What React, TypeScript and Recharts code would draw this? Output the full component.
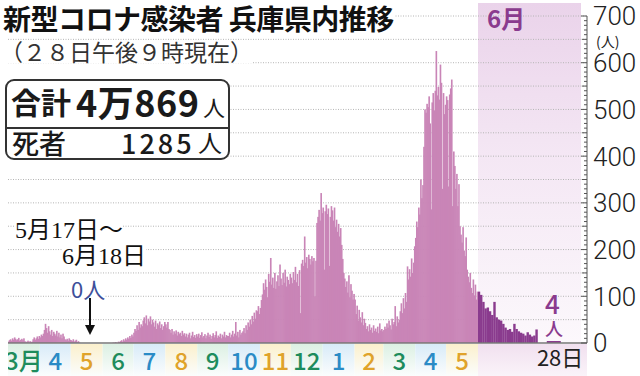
import React from 'react'
import { BarChart, Bar, XAxis, YAxis, CartesianGrid } from 'recharts'

// daily new cases (Mar 2020 - May 2021)
const mar20 = [3, 6, 8, 5, 10, 7, 12, 9, 6, 8, 11, 5, 7, 9, 6, 10, 4, 2, 3, 5, 1, 4, 2, 3, 8, 12, 7, 10, 14, 9, 15]
const apr20 = [12, 18, 15, 20, 28, 41, 32, 22, 36, 25, 18, 28, 15, 24, 20, 16, 26, 14, 22, 12, 18, 10, 20, 14, 8, 6, 9, 5, 10, 7]
const may20 = [6, 4, 8, 3, 5, 7, 2, 4, 1, 0, 0, 0, 0, 0, 0, 0, 0, 0, 0, 0, 0, 0, 0, 0, 0, 0, 0, 0, 0, 0, 0]
const jun20 = [0, 0, 0, 0, 0, 0, 0, 0, 0, 0, 1, 0, 2, 1, 0, 3, 2, 4, 6, 3, 8, 5, 10, 7, 12, 9, 15, 11, 18, 14]
const jul20 = [22, 30, 26, 38, 28, 45, 33, 40, 36, 48, 55, 42, 59, 38, 52, 46, 57, 40, 50, 44, 35, 48, 30, 42, 38, 46, 32, 40, 28, 36, 45]
const aug20 = [40, 33, 45, 30, 28, 22, 30, 18, 25, 20, 27, 16, 24, 19, 22, 15, 26, 18, 21, 14, 20, 12, 18, 22, 10, 16, 24, 13, 17, 11, 19]
const sep20 = [14, 20, 11, 17, 23, 12, 15, 19, 10, 16, 22, 13, 18, 9, 15, 21, 12, 17, 25, 11, 16, 13, 20, 10, 18, 14, 24, 12, 17, 15]
const oct20 = [15, 22, 12, 18, 26, 14, 20, 45, 16, 24, 12, 28, 18, 22, 25, 32, 21, 38, 28, 44, 35, 50, 40, 58, 46, 65, 52, 70, 68, 79, 62]
const nov20 = [75, 92, 104, 128, 114, 136, 120, 98, 148, 131, 182, 125, 140, 118, 150, 116, 132, 145, 122, 168, 138, 124, 150, 129, 157, 121, 142, 135, 126, 148]
const dec20 = [140, 128, 152, 135, 163, 130, 148, 122, 156, 64, 170, 178, 165, 228, 172, 184, 160, 189, 180, 168, 186, 175, 182, 100, 176, 257, 270, 285, 262, 321, 278]
const jan21 = [290, 157, 282, 296, 276, 288, 165, 270, 293, 284, 262, 290, 248, 264, 238, 255, 228, 246, 210, 180, 150, 138, 120, 132, 108, 145, 98, 126, 112, 93, 105]
const feb21 = [93, 62, 80, 48, 71, 55, 44, 66, 38, 52, 43, 30, 36, 25, 40, 28, 33, 22, 38, 26, 31, 24, 35, 21, 42, 27, 30, 25]
const mar21 = [28, 35, 30, 42, 33, 48, 38, 29, 52, 40, 45, 79, 36, 57, 44, 50, 68, 85, 64, 96, 74, 107, 88, 164, 136, 158, 142, 181, 150, 172, 207]
const apr21 = [225, 260, 248, 290, 275, 350, 310, 338, 420, 500, 493, 512, 505, 528, 470, 286, 515, 535, 498, 540, 625, 530, 548, 521, 596, 557, 330, 535, 490, 510]
const may21 = [528, 520, 335, 532, 545, 564, 293, 410, 379, 330, 362, 293, 340, 250, 232, 215, 248, 198, 186, 226, 157, 142, 130, 150, 118, 107, 136, 102, 125, 93, 110]
// June 2021, drawn on a wider scale; last value is the 28th
const jun21 = [110, 103, 88, 74, 76, 68, 60, 88, 55, 50, 48, 41, 33, 28, 30, 24, 41, 30, 25, 22, 20, 16, 23, 18, 14, 16, 29, 4]

const months = [mar20, apr20, may20, jun20, jul20, aug20, sep20, oct20, nov20, dec20, jan21, feb21, mar21, apr21, may21]
const monthLabels = ['3月', '4', '5', '6', '7', '8', '9', '10', '11', '12', '1', '2', '3', '4', '5']
const gridValues = [50, 100, 150, 200, 250, 300, 350, 400, 450, 500, 550, 600, 650, 700]
const yMinor = Array.from({ length: 71 }, (_, i) => i * 10)

const JP = '"Noto Sans CJK JP", "Noto Sans", sans-serif'
const SERIF = '"Liberation Serif", "Noto Sans CJK JP", serif'
const PINK = '#c985b7'
const PURPLE = '#8a3b8e'
const MAIN_W = 470

const mainData = months.flatMap((vals, m) => vals.map((v, d) => ({ key: `${m}-${d + 1}`, v })))
const monthStarts = months.map((_, m) => `${m}-1`)
const juneData = jun21.map((v, i) => ({ key: `j-${i + 1}`, v }))
const BW = MAIN_W / mainData.length

const bandColors = [
  { bg: '#dcf0e3', text: '#1e8c5c' },
  { bg: '#d8ebf8', text: '#2a8bc6' },
  { bg: '#fbf0cd', text: '#e0a32a' },
]

function MonthTick(props: any) {
  const { x, y, payload } = props
  const m = Number(String(payload.value).split('-')[0])
  const w = months[m].length * BW
  const left = x - BW / 2
  const c = bandColors[m % 3]
  return (
    <g>
      <defs>
        <linearGradient id={`band${m}`} x1="0" y1="0" x2="0" y2="1">
          <stop offset="0%" stopColor={c.bg} />
          <stop offset="100%" stopColor="#fbfdfd" />
        </linearGradient>
      </defs>
      <rect x={left} y={y + 1} width={w} height={32} fill={`url(#band${m})`} />
      <text x={left + w / 2} y={y + 27} textAnchor="middle" fill={c.text} fontSize={24} fontWeight={500} fontFamily={JP}>
        {monthLabels[m]}
      </text>
    </g>
  )
}

function DayTick(props: any) {
  const { x, y } = props
  return (
    <text x={x - 2} y={y + 23} fill="#222" fontSize={22} fontFamily={JP}>
      {`${jun21.length}日`}
    </text>
  )
}

function RightTick(props: any) {
  const { x, y, payload } = props
  const v = payload.value
  const major = v % 100 === 0
  const len = major ? 6 : v % 50 === 0 ? 5 : 3
  return (
    <g>
      <line x1={x - len} x2={x} y1={y} y2={y} stroke="#555" strokeWidth={1} />
      {major && (
        <text x={x + 6} y={y} dy="0.36em" fontSize={26} fontWeight={300} fill="#222" fontFamily='Roboto, "Liberation Sans", sans-serif'>
          {v}
        </text>
      )}
    </g>
  )
}

// 1px-wide bars leave hairline gaps; widen each a little so the area reads solid
function MainBar(props: any) {
  const { x, y, height } = props
  if (!height) return null
  return <rect x={x - 0.3} y={y} width={BW + 0.6} height={height} fill={PINK} />
}

function JuneBar(props: any) {
  const { x, y, width, height, index } = props
  if (index === jun21.length - 1) {
    const h = Math.max(height, 2)
    return <rect x={x + 9} y={y + height - h} width={14} height={h} fill={PURPLE} />
  }
  return <rect x={x - 0.2} y={y} width={width + 0.4} height={height} fill={PURPLE} />
}

const txt = (s: React.CSSProperties): React.CSSProperties => ({
  position: 'absolute',
  lineHeight: 1,
  whiteSpace: 'nowrap',
  fontFamily: JP,
  color: '#1a1a1a',
  ...s,
})

export default function App() {
  return (
    <div style={{ position: 'absolute', left: 0, top: 0, width: 640, height: 376, background: '#fff', overflow: 'hidden' }}>
      {/* June shading */}
      <div style={{ position: 'absolute', left: 478, top: 3, width: 103, height: 340, background: 'linear-gradient(#ead3ea, #f4e7f4 45%, #fcf8fc)' }} />
      <div style={{ position: 'absolute', left: 478, top: 344, width: 109, height: 32, background: 'linear-gradient(#f1e0ef, #faf3f9)' }} />

      <div style={{ position: 'absolute', left: 8, top: 0 }}>
        <BarChart width={MAIN_W} height={376} data={mainData} margin={{ top: 16, right: 0, bottom: 0, left: 0 }} barCategoryGap={0} barGap={0}>
          <CartesianGrid vertical={false} horizontalValues={gridValues} stroke="#b5b5b5" strokeDasharray="1 1.5" />
          <YAxis hide domain={[0, 700]} ticks={gridValues} />
          <XAxis dataKey="key" ticks={monthStarts} interval={0} tick={<MonthTick />} tickLine={false} tickSize={0} tickMargin={0} height={33} axisLine={{ stroke: '#777', strokeWidth: 1.5 }} />
          <Bar dataKey="v" shape={<MainBar />} isAnimationActive={false} />
        </BarChart>
      </div>

      <div style={{ position: 'absolute', left: 478, top: 0 }}>
        <BarChart width={162} height={376} data={juneData} margin={{ top: 16, right: 0, bottom: 0, left: 0 }} barCategoryGap={0} barGap={0}>
          <CartesianGrid vertical={false} horizontalValues={gridValues} stroke="#b5b5b5" strokeDasharray="1 1.5" />
          <XAxis dataKey="key" ticks={[juneData[juneData.length - 1].key]} interval={0} tick={<DayTick />} tickLine={false} tickSize={0} tickMargin={0} height={33} padding={{ left: 0, right: 47 }} axisLine={{ stroke: '#777', strokeWidth: 1.5 }} />
          <YAxis orientation="right" width={53} domain={[0, 700]} ticks={yMinor} interval={0} tick={<RightTick />} tickLine={false} tickSize={0} tickMargin={0} axisLine={{ stroke: '#555' }} />
          <Bar dataKey="v" shape={<JuneBar />} isAnimationActive={false} />
        </BarChart>
      </div>

      {/* titles */}
      <div style={txt({ left: 3, top: 4, fontSize: 28, fontWeight: 700, letterSpacing: -0.5, background: '#fff', color: '#111' })}>
        新型コロナ感染者 兵庫県内推移
      </div>
      <div style={txt({ left: 0, top: 40, fontSize: 23, background: '#fff', color: '#333' })}>（２８日午後９時現在）</div>

      {/* totals box */}
      <div style={{ position: 'absolute', left: 5, top: 79, width: 225, height: 81, border: '2px solid #333', borderRadius: 9, background: '#fff', boxSizing: 'border-box' }} />
      <div style={{ position: 'absolute', left: 6, top: 127, width: 223, height: 2, background: '#333' }} />
      <div style={txt({ left: 11, top: 86, fontSize: 30, fontWeight: 700 })}>合計</div>
      <div style={txt({ left: 76, top: 83, fontSize: 36, fontWeight: 700, letterSpacing: 0.5 })}>4万869</div>
      <div style={txt({ left: 203, top: 95, fontSize: 22 })}>人</div>
      <div style={txt({ left: 12, top: 129, fontSize: 27, fontWeight: 500 })}>死者</div>
      <div style={txt({ left: 121, top: 129, fontSize: 27, fontWeight: 500, letterSpacing: 3 })}>1285</div>
      <div style={txt({ left: 198, top: 130, fontSize: 24 })}>人</div>

      {/* June labels */}
      <div style={txt({ left: 487, top: 6, fontSize: 24, fontWeight: 700, color: PURPLE })}>6月</div>
      <div style={txt({ left: 596, top: 34, fontSize: 14, color: '#222' })}>(人)</div>
      <div style={txt({ left: 545, top: 290, fontSize: 26, fontWeight: 500, color: PURPLE })}>{jun21[jun21.length - 1]}</div>
      <div style={txt({ left: 545, top: 319, fontSize: 18, fontWeight: 500, color: PURPLE })}>人</div>

      {/* zero-case note */}
      <div style={txt({ left: 15, top: 218, height: 24, fontSize: 24, fontFamily: SERIF, background: '#fff', color: '#111' })}>5月17日～</div>
      <div style={txt({ left: 62, top: 244, height: 24, fontSize: 24, fontFamily: SERIF, background: '#fff', color: '#111' })}>6月18日</div>
      <div style={txt({ left: 71, top: 277, fontSize: 22, color: '#3d4f9a', background: '#fff' })}>0人</div>
      <svg style={{ position: 'absolute', left: 84, top: 298 }} width={12} height={40}>
        <line x1={6} x2={6} y1={0} y2={30} stroke="#111" strokeWidth={2} />
        <polygon points="1,27 11,27 6,37" fill="#111" />
      </svg>
    </div>
  )
}
